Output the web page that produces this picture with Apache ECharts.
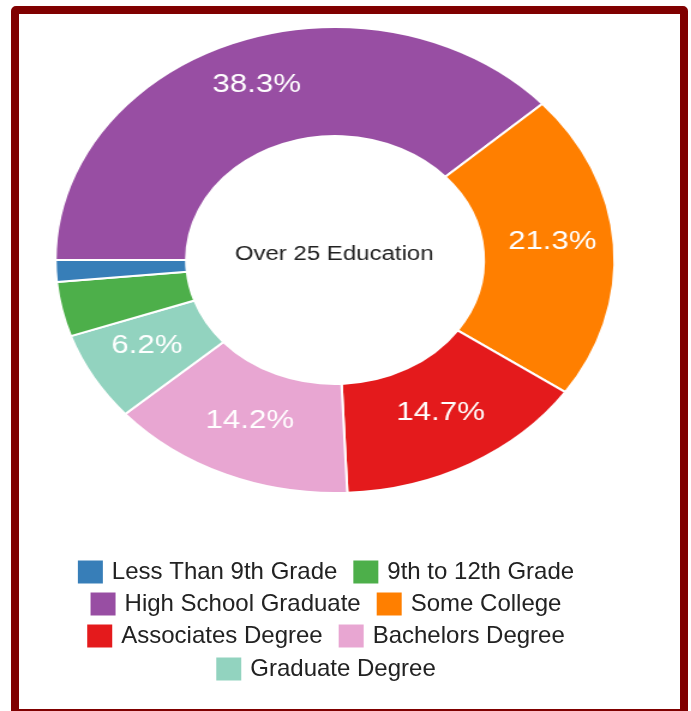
<!DOCTYPE html>
<html>
<head>
<meta charset="utf-8">
<script src="https://cdn.jsdelivr.net/npm/echarts@6/dist/echarts.min.js"></script>
<style>
  html, body { margin: 0; padding: 0; background: #fff; overflow: hidden; }
  #frame {
    position: absolute; left: 11px; top: 6px;
    width: 661px; height: 695px;
    border: 8px solid #800000; border-radius: 5px;
  }
  /* the reference pie is stretched horizontally, so the donut layer is scaled */
  #pie {
    position: absolute; left: 0; top: 0;
    width: 576px; height: 711px;
    transform: scaleX(1.2); transform-origin: 0 0;
  }
  #legend {
    position: absolute; left: 0; top: 0;
    width: 652px; height: 711px;
  }
</style>
</head>
<body>
<div id="frame"></div>
<div id="pie"></div>
<div id="legend"></div>
<script>
// slices, clockwise from 9 o'clock (largest first)
const categories = ['High School Graduate', 'Some College', 'Associates Degree', 'Bachelors Degree', 'Graduate Degree', '9th to 12th Grade', 'Less Than 9th Grade']
const shares = [38.3, 21.3, 14.7, 14.2, 6.2, 3.8, 1.5]
const colors = ['#984ea3', '#ff7f00', '#e41a1c', '#e8a6d2', '#92d3bf', '#4daf4a', '#377eb8']

// legend rows as in the reference
const legendRows = [
  ['Less Than 9th Grade', '9th to 12th Grade'],
  ['High School Graduate', 'Some College'],
  ['Associates Degree', 'Bachelors Degree'],
  ['Graduate Degree']
]
const centerText = 'Over 25 Education'

const fontFamily = '"Liberation Sans", Arial, sans-serif'

const pieData = categories.map((name, i) => ({
  name,
  value: shares[i],
  itemStyle: { color: colors[i] }
}))

// 甜甜圈
const pieChart = echarts.init(document.getElementById('pie'))
pieChart.setOption({
  animation: false,
  graphic: [
    {
      type: 'text',
      x: 278.5,
      y: 254,
      style: {
        text: centerText,
        fontSize: 20,
        fontFamily,
        fill: '#222',
        align: 'center',
        verticalAlign: 'middle'
      }
    }
  ],
  series: [
    {
      type: 'pie',
      center: [279.2, 260],
      radius: [124, 233],
      startAngle: 180,
      clockwise: true,
      avoidLabelOverlap: false,
      itemStyle: {
        borderColor: '#fff',
        borderWidth: 2
      },
      label: {
        show: true,
        position: 'inside',
        formatter: p => (p.value >= 5 ? p.value.toFixed(1) + '%' : ''),
        color: '#fff',
        fontSize: 26,
        fontFamily,
        offset: [0, -6]
      },
      labelLine: { show: false },
      emphasis: { disabled: true },
      data: pieData
    }
  ]
})

// 图例（不拉伸）
const rowTops = [555, 587, 619, 652]
const legendChart = echarts.init(document.getElementById('legend'))
legendChart.setOption({
  animation: false,
  legend: legendRows.map((row, i) => ({
    data: row,
    left: 'center',
    top: rowTops[i],
    icon: 'rect',
    itemWidth: 25,
    itemHeight: 23,
    itemGap: 16,
    selectedMode: false,
    textStyle: {
      fontSize: 24,
      fontFamily,
      color: '#222',
      padding: [0, 0, 0, 4]
    }
  })),
  series: [
    {
      type: 'pie',
      center: [-1000, -1000],
      radius: 5,
      label: { show: false },
      labelLine: { show: false },
      silent: true,
      data: pieData
    }
  ]
})
</script>
</body>
</html>
